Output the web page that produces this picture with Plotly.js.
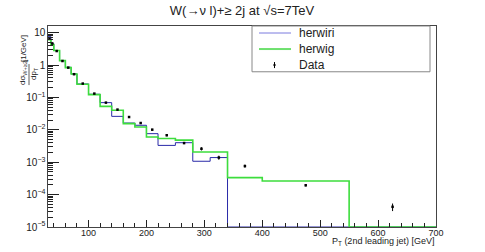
<!DOCTYPE html>
<html>
<head>
<meta charset="utf-8">
<script src="https://cdn.plot.ly/plotly-3.0.1.min.js"></script>
<style>
html,body{margin:0;padding:0;background:#fff;}
#chart{width:485px;height:252px;}
</style>
</head>
<body>
<div id="chart"></div>
<script>
// ---- data ----
const binEdges = [30,35,40,50,60,70,80,100,120,140,160,180,200,220,250,280,310,340,400,550,700];
const herwiri = [7.5,4.5,2.8,1.37,0.85,0.53,0.26,0.125,0.069,0.026,0.0162,0.0138,0.0076,0.0033,0.0040,0.00107,0.00139,0,0,0];
const herwig  = [6.0,4.3,2.8,1.37,0.83,0.53,0.254,0.122,0.053,0.040,0.0155,0.0122,0.006,0.0054,0.0048,0.00207,0.00207,0.000335,0.000263,0];
const dataX   = [32.5,37.5,45,55,65,75,90,110,130,150,170,190,210,235,265,295,325,370,475,625];
const dataY   = [6.5,4.6,2.7,1.33,0.83,0.52,0.267,0.131,0.069,0.042,0.0248,0.0162,0.0101,0.0068,0.0039,0.0026,0.00139,0.00076,0.000194,0.000042];
const dataErr = [0.3,0.2,0.1,0.05,0.03,0.02,0.01,0.005,0.003,0.002,0.0012,0.0009,0.0006,0.0005,0.0003,0.0003,0.0002,0.00008,0.000015,0.000011];
const seriesNames = ['herwiri','herwig','Data'];

// ---- drawing ----
const YMIN_LOG = -5, YMAX_LOG = 1.204;
const floorVal = Math.pow(10, YMIN_LOG);
function stepY(vals){
  const y = vals.map(v => v > 0 ? v : floorVal);
  y.push(y[y.length-1]);
  return y;
}
const FONT = 'Liberation Sans, Arial, Helvetica, sans-serif';
const BLUE = '#2a2aa8', GREEN = '#3ddd3d';

const traces = [
  {x: binEdges, y: stepY(herwiri), type:'scatter', mode:'lines', name: seriesNames[0],
   line:{shape:'hv', color:BLUE, width:1}},
  {x: binEdges, y: stepY(herwig), type:'scatter', mode:'lines', name: seriesNames[1],
   line:{shape:'hv', color:GREEN, width:1.6}},
  {x: dataX, y: dataY, type:'scatter', mode:'markers', name: seriesNames[2],
   marker:{symbol:'square', size:2.5, color:'#000'},
   error_y:{type:'data', array: dataErr, visible:true, color:'#000', thickness:1, width:0}}
];

const L = 48, R = 436, T = 26, B = 226.7, W = 485, H = 252;
const px2x = p => (p - L) / (R - L);
const px2y = p => (B - p) / (B - T);

// manual legend (positions only; labels from seriesNames)
const legRows = [33, 49, 65];
const legShapes = [
  {type:'rect', xref:'paper', yref:'paper', x0: px2x(252), x1: px2x(430), y0: px2y(71.7), y1: 1,
   line:{color:'#888', width:1}, fillcolor:'rgba(255,255,255,0)'},
  {type:'line', xref:'paper', yref:'paper', x0: px2x(259), x1: px2x(291), y0: px2y(legRows[0]), y1: px2y(legRows[0]),
   line:{color:'#7a7ade', width:1}},
  {type:'line', xref:'paper', yref:'paper', x0: px2x(259), x1: px2x(291), y0: px2y(legRows[1]), y1: px2y(legRows[1]),
   line:{color:'#6ee06e', width:2}},
  {type:'line', xref:'paper', yref:'paper', x0: px2x(274.5), x1: px2x(274.5), y0: px2y(legRows[2]-3), y1: px2y(legRows[2]+3),
   line:{color:'#000', width:1}},
  {type:'rect', xref:'paper', yref:'paper', x0: px2x(273.5), x1: px2x(275.5), y0: px2y(legRows[2]+1), y1: px2y(legRows[2]-1),
   line:{width:0}, fillcolor:'#000'}
];
const legTexts = seriesNames.map((n, i) => ({
  text: n, xref:'paper', yref:'paper', x: px2x(297), y: px2y(legRows[i]),
  xanchor:'left', yanchor:'middle', showarrow:false, font:{size:12, color:'#222', family: FONT}
}));

const layout = {
  width: W, height: H,
  margin: {l: L, r: W - R, t: T, b: H - B, pad: 0},
  paper_bgcolor: '#fff', plot_bgcolor: '#fff',
  font: {family: FONT, color: '#000'},
  showlegend: false,
  title: {text: 'W(→ν l)+≥ 2j at √s=7TeV', font:{family: FONT, size: 13, color:'#222'},
          x: 0.5, xref:'paper', y: 1 - 10/H, yanchor:'middle'},
  xaxis: {
    type:'linear', range:[30,700], tick0:0, dtick:100,
    ticks:'inside', ticklen:7, tickcolor:'#222', tickwidth:1,
    showline:true, mirror:true, linecolor:'#444', linewidth:1,
    showgrid:false, zeroline:false, ticklabelstandoff:-3,
    tickfont:{size:9, color:'#222'},
    minor:{ticks:'inside', ticklen:4, dtick:20, tickcolor:'#222', showgrid:false}
  },
  yaxis: {
    type:'log', range:[YMIN_LOG, YMAX_LOG], dtick:1, exponentformat:'power',
    ticks:'inside', ticklen:11, tickcolor:'#222', tickwidth:1,
    showline:true, mirror:true, linecolor:'#444', linewidth:1,
    showgrid:false, zeroline:false,
    tickfont:{size:8, color:'#222'},
    minor:{ticks:'inside', ticklen:5, dtick:'D1', tickcolor:'#222', showgrid:false}
  },
  shapes: legShapes.concat([
    {type:'line', xref:'paper', yref:'paper', x0: px2x(29), x1: px2x(29), y0: px2y(85), y1: px2y(64),
     line:{color:'#333', width:0.8}}
  ]),
  annotations: legTexts.concat([
    {text:'dσ<sub>W+≥2j</sub>', xref:'paper', yref:'paper', x: px2x(23), y: px2y(73),
     textangle:-90, showarrow:false, font:{size:8, color:'#222'}, xanchor:'center', yanchor:'middle'},
    {text:'dp<sub>T</sub>', xref:'paper', yref:'paper', x: px2x(34), y: px2y(74),
     textangle:-90, showarrow:false, font:{size:8, color:'#222'}, xanchor:'center', yanchor:'middle'},
    {text:'[1/GeV]', xref:'paper', yref:'paper', x: px2x(23), y: px2y(49),
     textangle:-90, showarrow:false, font:{size:8, color:'#222'}, xanchor:'center', yanchor:'middle'},
    {text:'P<sub>T</sub> (2nd leading jet) [GeV]', xref:'paper', yref:'paper', x: 1, y: px2y(241),
     showarrow:false, font:{size:9, color:'#222'}, xanchor:'right', yanchor:'middle'}
  ])
};

Plotly.newPlot('chart', traces, layout, {staticPlot:true, displayModeBar:false});
</script>
</body>
</html>
